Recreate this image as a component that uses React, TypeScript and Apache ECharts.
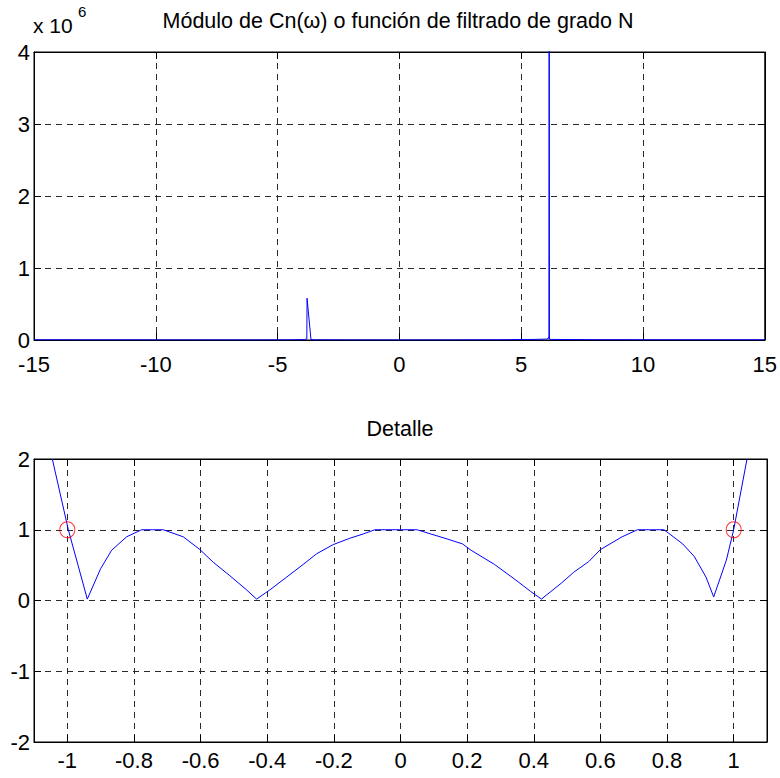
import React, { useEffect, useRef } from "react";
import * as echarts from "echarts";

// Top plot: |Cn(w)| over -15..15 (values in units, axis shown x 10^6)
const topX = [-15, -12, -9, -6, -4.5, -3.9, -3.8, -3.79, -3.63, -3.5, -2, 0, 2, 4, 5.5, 6.0, 6.08, 6.12, 6.14, 6.15, 6.16, 6.25, 8, 11, 15];
const topY = [3000, 2000, 1500, 1000, 2000, 6000, 15000, 580000, 8000, 3000, 1000, 500, 1000, 3000, 8000, 12000, 15000, 35000, 20000, 9000000, 10000, 8000, 4000, 3000, 3000];
const topXTicks = [-15, -10, -5, 0, 5, 10, 15];
const topYTicks = [0, 1, 2, 3, 4];

// Bottom plot: detail -1.1..1.1
const detX = [-1.045, -0.997, -0.94, -0.9, -0.867, -0.822, -0.777, -0.745, -0.712, -0.652, -0.602, -0.562, -0.512, -0.462, -0.432, -0.392, -0.342, -0.292, -0.252, -0.202, -0.152, -0.112, -0.077, 0, 0.05, 0.091, 0.14, 0.186, 0.212, 0.282, 0.343, 0.39, 0.423, 0.484, 0.52, 0.565, 0.6, 0.665, 0.711, 0.75, 0.791, 0.847, 0.882, 0.917, 0.94, 0.978, 1.0, 1.04];
const detY = [2.0, 1.0, 0.02, 0.45, 0.71, 0.9, 1.0, 1.0, 1.0, 0.9, 0.72, 0.54, 0.35, 0.15, 0.02, 0.15, 0.33, 0.51, 0.66, 0.79, 0.88, 0.94, 1.0, 1.0, 1.0, 0.94, 0.87, 0.8, 0.71, 0.51, 0.3, 0.13, 0.02, 0.25, 0.4, 0.55, 0.72, 0.9, 1.0, 1.0, 1.0, 0.8, 0.62, 0.33, 0.05, 0.57, 1.0, 2.0];
const markX = [-1, 1];
const markY = [1, 1];
const detXTicks = [-1, -0.8, -0.6, -0.4, -0.2, 0, 0.2, 0.4, 0.6, 0.8, 1];
const detYTicks = [-2, -1, 0, 1, 2];

const FONT = "'Liberation Sans', Arial, Helvetica, sans-serif";
const TITLE1 = "Módulo de Cn(ω) o función de filtrado de grado N";
const TITLE2 = "Detalle";

export default function App() {
  const ref = useRef<HTMLDivElement>(null);
  useEffect(() => {
    if (!ref.current) return;
    const chart = echarts.init(ref.current, null, { renderer: "svg" });
    const gridLine = { show: true, lineStyle: { color: "#2a2a2a", width: 1, type: [6, 5] as any } };
    const axisLine = { show: true, onZero: false, lineStyle: { color: "#000", width: 1 } };
    const tick = { show: true, inside: true, length: 7, lineStyle: { color: "#000", width: 1 } };
    const label = { color: "#000", fontSize: 22, fontFamily: FONT };

    const option: any = {
      animation: false,
      backgroundColor: "#fff",
      title: [
        { text: TITLE1, left: 398, top: 10, padding: 0, textAlign: "center", textStyle: { fontSize: 21.5, fontWeight: "normal", color: "#000", fontFamily: FONT } },
        { text: TITLE2, left: 400, top: 418, padding: 0, textAlign: "center", textStyle: { fontSize: 21.5, fontWeight: "normal", color: "#000", fontFamily: FONT } },
      ],
      graphic: [
        { type: "text", left: 33, top: 15, style: { text: "x 10", fontSize: 21, fontFamily: FONT, fill: "#000" } },
        { type: "text", left: 78, top: 4, style: { text: "6", fontSize: 15, fontFamily: FONT, fill: "#000" } },
      ],
      grid: [
        { left: 34, top: 52, width: 733, height: 288, show: true, borderColor: "#000", borderWidth: 1, backgroundColor: "#fff" },
        { left: 34, top: 459, width: 733, height: 283, show: true, borderColor: "#000", borderWidth: 1, backgroundColor: "#fff" },
      ],
      xAxis: [
        { type: "value", gridIndex: 0, min: -15, max: 15, interval: 5, position: "bottom", axisLine, axisTick: tick, splitLine: gridLine, axisLabel: { ...label, margin: 13, customValues: topXTicks } },
        { type: "value", gridIndex: 0, min: -15, max: 15, interval: 5, position: "top", axisLine, axisTick: tick, splitLine: { show: false }, axisLabel: { show: false } },
        { type: "value", gridIndex: 1, min: -1.1, max: 1.1, position: "bottom", axisLine, axisTick: { ...tick, customValues: detXTicks }, splitLine: gridLine, axisLabel: { ...label, margin: 7, customValues: detXTicks, formatter: (v: number) => String(Math.round(v * 10) / 10) } },
        { type: "value", gridIndex: 1, min: -1.1, max: 1.1, position: "top", axisLine, axisTick: { ...tick, customValues: detXTicks }, splitLine: { show: false }, axisLabel: { show: false, customValues: detXTicks } },
      ],
      yAxis: [
        { type: "value", gridIndex: 0, min: 0, max: 4e6, interval: 1e6, position: "left", axisLine, axisTick: tick, splitLine: gridLine, axisLabel: { ...label, margin: 4, formatter: (v: number) => String(topYTicks[Math.round(v / 1e6)] ?? v / 1e6) } },
        { type: "value", gridIndex: 0, min: 0, max: 4e6, interval: 1e6, position: "right", axisLine, axisTick: tick, splitLine: { show: false }, axisLabel: { show: false } },
        { type: "value", gridIndex: 1, min: -2, max: 2, interval: 1, position: "left", axisLine, axisTick: tick, splitLine: gridLine, axisLabel: { ...label, margin: 4, formatter: (v: number) => String(detYTicks.find((t) => t === v) ?? v) } },
        { type: "value", gridIndex: 1, min: -2, max: 2, interval: 1, position: "right", axisLine, axisTick: tick, splitLine: { show: false }, axisLabel: { show: false } },
      ],
      series: [
        { type: "line", xAxisIndex: 0, yAxisIndex: 0, data: topX.map((x, i) => [x, topY[i]]), showSymbol: false, symbol: "none", lineStyle: { color: "#0000ff", width: 1 }, clip: true, z: 5 },
        { type: "line", xAxisIndex: 2, yAxisIndex: 2, data: detX.map((x, i) => [x, detY[i]]), showSymbol: false, symbol: "none", lineStyle: { color: "#0000ff", width: 1 }, clip: true, z: 5 },
        { type: "scatter", xAxisIndex: 2, yAxisIndex: 2, data: markX.map((x, i) => [x, markY[i]]), symbol: "circle", symbolSize: [15, 16], itemStyle: { color: "rgba(0,0,0,0)", borderColor: "#ff0000", borderWidth: 1 }, z: 6 },
      ],
    };
    chart.setOption(option);
    return () => chart.dispose();
  }, []);
  return <div ref={ref} style={{ position: "fixed", left: 0, top: 0, width: 780, height: 778 }} />;
}
